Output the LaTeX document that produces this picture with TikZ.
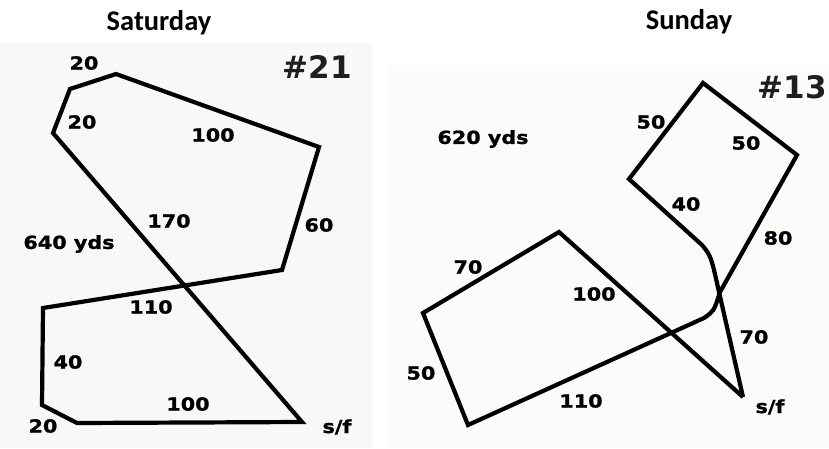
\documentclass[tikz,border=0pt]{standalone}
\usepackage{fontspec}
\newfontfamily\titlefont{Carlito}
\newfontfamily\lblfont{DejaVu Sans}[FakeStretch=1.15,FakeBold=1.2]
\newfontfamily\numfont{DejaVu Sans}
\definecolor{bgleft}{HTML}{F8F8F8}
\definecolor{bgright}{HTML}{FDFAFA}
\begin{document}
\begin{tikzpicture}[x=1pt,y=-1pt,
  route/.style={line width=4.2pt,line join=miter,line cap=butt},
  lbl/.style={font=\lblfont\bfseries\fontsize{18}{18}\selectfont,inner sep=0pt,text=black},
  title/.style={font=\titlefont\bfseries\fontsize{28.5}{28.5}\selectfont,inner sep=0pt},
  big/.style={font=\numfont\bfseries\fontsize{31}{31}\selectfont,inner sep=0pt,text=black!88}]
\useasboundingbox (0,0) rectangle (829,448);
\fill[white] (0,0) rectangle (829,448);
\fill[bgleft] (0,43) rectangle (372,448);
\fill[bgright] (388,65) rectangle (829,448);

% titles
\node[title] (sat) at (159,23) {Saturday};
\node[title] (sun) at (689,22) {Sunday};

% Saturday route
\coordinate (a1) at (116,74);
\coordinate (a2) at (70,89);
\coordinate (a3) at (53,133);
\coordinate (a4) at (319,147);
\coordinate (a5) at (282,270);
\coordinate (a6) at (43,308);
\coordinate (a7) at (42,405);
\coordinate (a8) at (77,423);
\coordinate (asf) at (302,422);
\draw[route] (asf) -- (a8) -- (a7) -- (a6) -- (a5) -- (a4) -- (a1) -- (a2) -- (a3) -- cycle;

\node[big] (n21) at (317,67) {\#21};
\node[lbl] (s1) at (84,63) {20};
\node[lbl] (s2) at (82,122) {20};
\node[lbl] (s3) at (213,135) {100};
\node[lbl] (s4) at (169,221) {170};
\node[lbl] (s5) at (319,225) {60};
\node[lbl] (s6) at (69,244) {640 yds};
\node[lbl] (s7) at (151,307) {110};
\node[lbl] (s8) at (68,362) {40};
\node[lbl] (s9) at (188,404) {100};
\node[lbl] (s10) at (43,426) {20};
\node[lbl] (s11) at (337,427) {s/f};

% Sunday route
\coordinate (bsf) at (743,397);
\coordinate (b1) at (559,232);
\coordinate (b2) at (423,313);
\coordinate (b3) at (468,425);
\coordinate (b4) at (704,318);
\coordinate (b5) at (720,292);
\coordinate (b6) at (797,155);
\coordinate (b7) at (703,83);
\coordinate (b8) at (629,179);
\coordinate (b9) at (702,245);
\coordinate (b10) at (719,292);
\draw[route] (bsf) -- (b1) -- (b2) -- (b3) -- (b4)
  .. controls (714,311) .. (b5) -- (b6) -- (b7) -- (b8) -- (b9)
  .. controls (711,256) .. (b10) -- (bsf);

\node[big] (n13) at (792,87) {\#13};
\node[lbl] (u1) at (651,122) {50};
\node[lbl] (u2) at (746,143) {50};
\node[lbl] (u3) at (483,139) {620 yds};
\node[lbl] (u4) at (686,204) {40};
\node[lbl] (u5) at (778,238) {80};
\node[lbl] (u6) at (468,267) {70};
\node[lbl] (u7) at (594,294) {100};
\node[lbl] (u8) at (754,337) {70};
\node[lbl] (u9) at (421,373) {50};
\node[lbl] (u10) at (581,401) {110};
\node[lbl] (u11) at (770,407) {s/f};
\end{tikzpicture}
\end{document}
